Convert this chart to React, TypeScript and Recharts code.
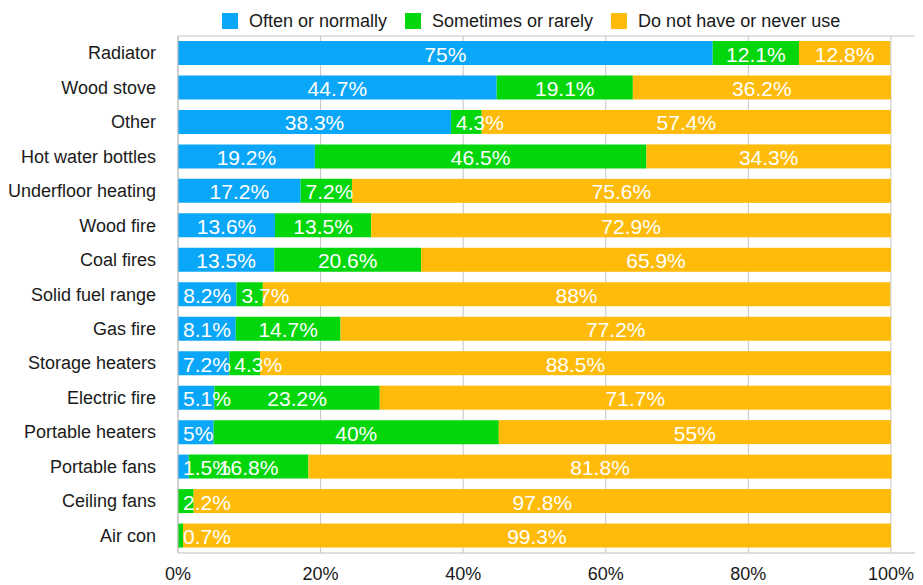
import { BarChart, Bar, XAxis, YAxis, CartesianGrid } from 'recharts';

const categories = [
  'Radiator', 'Wood stove', 'Other', 'Hot water bottles', 'Underfloor heating',
  'Wood fire', 'Coal fires', 'Solid fuel range', 'Gas fire', 'Storage heaters',
  'Electric fire', 'Portable heaters', 'Portable fans', 'Ceiling fans', 'Air con',
];
const often = [75, 44.7, 38.3, 19.2, 17.2, 13.6, 13.5, 8.2, 8.1, 7.2, 5.1, 5, 1.5, 0, 0];
const sometimes = [12.1, 19.1, 4.3, 46.5, 7.2, 13.5, 20.6, 3.7, 14.7, 4.3, 23.2, 40, 16.8, 2.2, 0.7];
const never = [12.8, 36.2, 57.4, 34.3, 75.6, 72.9, 65.9, 88, 77.2, 88.5, 71.7, 55, 81.8, 97.8, 99.3];
const xTicks = [0, 20, 40, 60, 80, 100];

const seriesNames = ['Often or normally', 'Sometimes or rarely', 'Do not have or never use'];
const COLORS = ['#0aa6f7', '#03d60b', '#ffbb0a'];

const FONT = '"Liberation Sans", Arial, Helvetica, sans-serif';
const LABEL_SIZE = 21;

const data = categories.map((name, i) => ({
  name,
  often: often[i],
  sometimes: sometimes[i],
  never: never[i],
}));

// rough Arial widths in em
const charW: { [k: string]: number } = { '.': 0.278, '%': 0.889 };
const textWidth = (s: string) =>
  s.split('').reduce((sum, c) => sum + (charW[c] ?? 0.556), 0) * LABEL_SIZE;

function segLabel(key: string, segX: number, segW: number, cy: number, v: number) {
  if (!v) return null;
  const txt = `${v}%`;
  const w = textWidth(txt);
  const left = Math.max(segX + 5, segX + segW / 2 - w / 2);
  return (
    <text key={key} x={left} y={cy + 1} fill="#fff" fontSize={LABEL_SIZE} fontFamily={FONT}
      dominantBaseline="central" textAnchor="start">
      {txt}
    </text>
  );
}

// last stacked segment: draw its rect, then every label of the row on top
const LastSegment = (props: any) => {
  const { x, y, width, height, fill } = props;
  const row = props.payload ?? props;
  const k = width / row.never;
  const greenX = x - row.sometimes * k;
  const blueX = greenX - row.often * k;
  const cy = y + height / 2;
  return (
    <g>
      <rect x={x} y={y} width={width} height={height} fill={fill} />
      {segLabel('o', blueX, row.often * k, cy, row.often)}
      {segLabel('s', greenX, row.sometimes * k, cy, row.sometimes)}
      {segLabel('n', x, width, cy, row.never)}
    </g>
  );
};

const CategoryTick = ({ x, y, payload }: any) => (
  <text x={x} y={y} textAnchor="end" dominantBaseline="central" fontSize={18}
    fontFamily={FONT} fill="#1a1a1a">
    {payload.value}
  </text>
);

const PercentTick = ({ x, y, payload }: any) => (
  <text x={x} y={y + 13} textAnchor="middle" dominantBaseline="central" fontSize={18}
    fontFamily={FONT} fill="#1a1a1a">
    {`${payload.value}%`}
  </text>
);

export default function App() {
  return (
    <div style={{ position: 'relative', width: 915, height: 577, fontFamily: FONT }}>
      <div style={{ position: 'absolute', top: 2, left: 214, display: 'flex', alignItems: 'center', height: 22, fontSize: 18, color: '#1a1a1a' }}>
        {seriesNames.map((s, i) => (
          <div key={s} style={{ display: 'flex', alignItems: 'center', marginRight: 18 }}>
            <span style={{ width: 16, height: 16, background: COLORS[i], marginRight: 11 }} />
            <span>{s}</span>
          </div>
        ))}
      </div>
      <BarChart
        width={915}
        height={577}
        data={data}
        layout="vertical"
        margin={{ top: 28, right: 0, bottom: 0, left: 0 }}
        barSize={24}
      >
        <CartesianGrid
          stroke="#c4c4c4"
          vertical
          horizontalCoordinatesGenerator={({ offset }: any) => [offset.top]}
        />
        <XAxis
          type="number"
          domain={[0, 104.5]}
          ticks={xTicks}
          axisLine={{ stroke: '#bdbdbd' }}
          tickLine={false}
          height={32}
          tick={<PercentTick />}
        />
        <YAxis
          type="category"
          dataKey="name"
          width={170}
          axisLine={{ stroke: '#bdbdbd' }}
          tickLine={false}
          tickMargin={16}
          tick={<CategoryTick />}
          interval={0}
        />
        <Bar dataKey="often" stackId="a" fill={COLORS[0]} isAnimationActive={false} />
        <Bar dataKey="sometimes" stackId="a" fill={COLORS[1]} isAnimationActive={false} />
        <Bar dataKey="never" stackId="a" fill={COLORS[2]} isAnimationActive={false} shape={LastSegment} />
      </BarChart>
    </div>
  );
}
